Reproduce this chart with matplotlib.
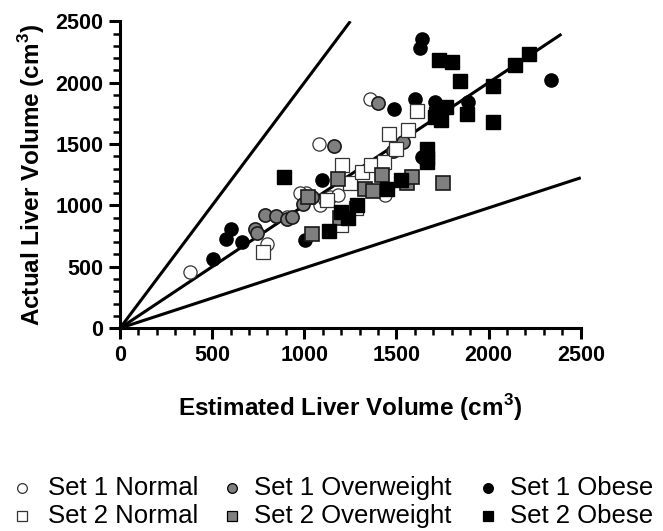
import matplotlib
matplotlib.use("Agg")
import matplotlib.pyplot as plt
from matplotlib.lines import Line2D
from matplotlib.ticker import MultipleLocator

plt.rcParams['font.family'] = ['Liberation Sans', 'DejaVu Sans']
plt.rcParams['mathtext.fontset'] = 'custom'
plt.rcParams['mathtext.bf'] = 'Liberation Sans:bold'
plt.rcParams['mathtext.rm'] = 'Liberation Sans'

# ---- data ----
s1_normal_x = [380, 796, 904, 1009, 1085, 1139, 1184, 1081, 1356, 1437, 976, 1112]
s1_normal_y = [459, 684, 906, 1102, 1002, 1069, 1083, 1496, 1870, 1083, 1097, 1042]

s1_over_x = [732, 741, 786, 846, 907, 994, 1040, 1160, 1401, 1536, 1479, 931]
s1_over_y = [804, 776, 920, 912, 893, 1015, 1069, 1482, 1830, 1517, 1441, 906]

s1_obese_x = [504, 575, 602, 660, 1003, 1097, 1486, 1600, 1708, 1889, 2337, 1636, 1627, 1640, 1654]
s1_obese_y = [562, 725, 806, 700, 717, 1205, 1789, 1870, 1843, 1843, 2025, 2359, 2278, 1395, 1382]

s2_normal_x = [774, 1121, 1198, 1206, 1247, 1278, 1311, 1361, 1432, 1460, 1500, 1563, 1609]
s2_normal_y = [621, 1042, 839, 1327, 1183, 975, 1273, 1327, 1354, 1585, 1463, 1618, 1770]

s2_over_x = [1040, 1021, 1184, 1193, 1329, 1374, 1419, 1555, 1582, 1753]
s2_over_y = [765, 1069, 1211, 897, 1130, 1118, 1245, 1180, 1228, 1180]

s2_obese_x = [888, 1135, 1200, 1238, 1284, 1450, 1522, 1663, 1663, 1668, 1708, 1717,
              1744, 1771, 1730, 1799, 1844, 1880, 2021, 2021, 2142, 2218]
s2_obese_y = [1228, 790, 945, 895, 1000, 1135, 1205, 1463, 1390, 1355, 1721, 1748,
              1697, 1800, 2182, 2169, 2010, 1748, 1975, 1680, 2142, 2237]

# reference lines: (x_end, slope)
line_upper = (1250, 2.0)
line_fit = (2395, 1.0)
line_lower = (2500, 0.49)

legend_labels = ['Set 1 Normal', 'Set 1 Overweight', 'Set 1 Obese',
                 'Set 2 Normal', 'Set 2 Overweight', 'Set 2 Obese']

W, H = 663, 531
fig = plt.figure(figsize=(W / 100, H / 100), dpi=100)
ax = fig.add_axes([0.181, 0.382, 0.695, 0.578])

for xe, m in (line_upper, line_fit, line_lower):
    ax.plot([0, xe], [0, m * xe], color='black', lw=2.2, zorder=2, solid_capstyle='butt')

ms = 9.5
styles = [('o', 'white', '#333333', 0.9), ('o', '#7f7f7f', '#1a1a1a', 1.2), ('o', 'black', 'black', 1),
          ('s', 'white', '#333333', 0.9), ('s', '#7f7f7f', '#1a1a1a', 1.2), ('s', 'black', 'black', 1)]
series = [(s1_normal_x, s1_normal_y), (s1_over_x, s1_over_y), (s1_obese_x, s1_obese_y),
          (s2_normal_x, s2_normal_y), (s2_over_x, s2_over_y), (s2_obese_x, s2_obese_y)]
for (xs, ys), (mk, fc, ec, mew) in zip(series, styles):
    ax.plot(xs, ys, linestyle='none', marker=mk, markersize=ms, mfc=fc, mec=ec, mew=mew,
            zorder=3, clip_on=False)

ax.set_xlim(0, 2500)
ax.set_ylim(0, 2500)
ax.xaxis.set_major_locator(MultipleLocator(500))
ax.yaxis.set_major_locator(MultipleLocator(500))
ax.xaxis.set_minor_locator(MultipleLocator(100))
ax.yaxis.set_minor_locator(MultipleLocator(100))
for s in ('top', 'right'):
    ax.spines[s].set_visible(False)
for s in ('left', 'bottom'):
    ax.spines[s].set_linewidth(2.2)
ax.tick_params(which='major', length=8, width=2.2, labelsize=15.5, pad=4)
ax.tick_params(which='minor', length=5, width=1.8)
for lab in ax.get_xticklabels() + ax.get_yticklabels():
    lab.set_fontweight('bold')

ax.set_xlabel('Estimated Liver Volume (cm$^\\mathbf{3}$)', fontsize=17.5, fontweight='bold', labelpad=19)
ax.set_ylabel('Actual Liver Volume (cm$^\\mathbf{3}$)', fontsize=17.5, fontweight='bold', labelpad=6)

# manual legend (pixel positions from the top-left corner)
marker_x = [22, 232, 488]
text_x = [48, 254, 510]
row_y = [488, 516]
for i, (lab, (mk, fc, ec, mew)) in enumerate(zip(legend_labels, styles)):
    r, c = divmod(i, 3)
    fx = marker_x[c] / W
    fy = 1 - row_y[r] / H
    fig.add_artist(Line2D([fx], [fy], transform=fig.transFigure, linestyle='none', marker=mk,
                          markersize=7 if mk == 'o' else 7.5, mfc=fc,
                          mec='#333333' if fc == 'white' else 'black', mew=0.9))
    fig.text(text_x[c] / W, fy, lab, fontsize=18.5, ha='left', va='center')

fig.savefig('out.png', dpi=100)
